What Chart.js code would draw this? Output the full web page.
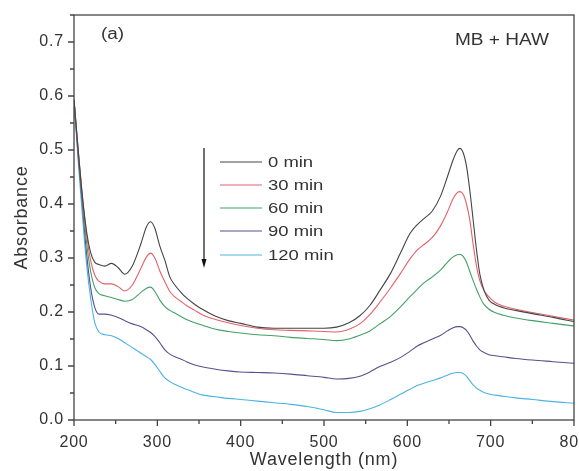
<!DOCTYPE html>
<html>
<head>
<meta charset="utf-8">
<script src="https://cdn.jsdelivr.net/npm/chart.js@4.4.1/dist/chart.umd.min.js"></script>
<style>
  html, body { margin: 0; padding: 0; background: #fff; }
  #wrap { width: 579px; height: 471px; }
</style>
</head>
<body>
<div id="wrap"><canvas id="chart" width="579" height="471"></canvas></div>
<script>
// wavelength grid (nm)
const wavelengths = [200,205,210,215,220,225,230,237,245,253,261,270,280,287,292,297,303,309,315,321,328,335,345,355,370,385,400,420,440,460,480,500,515,530,543,555,567,580,592,603,612,620,630,640,648,655,660,663,667,671,675,679,683,687,692,698,705,715,730,750,775,800];

const abs0 = [0.593,0.50,0.415,0.35,0.31,0.292,0.288,0.285,0.290,0.282,0.270,0.285,0.325,0.358,0.367,0.355,0.322,0.296,0.265,0.250,0.237,0.226,0.214,0.204,0.192,0.184,0.179,0.172,0.170,0.170,0.170,0.170,0.172,0.180,0.193,0.212,0.240,0.272,0.310,0.345,0.362,0.373,0.387,0.415,0.450,0.482,0.499,0.503,0.495,0.470,0.425,0.370,0.315,0.270,0.240,0.222,0.214,0.208,0.203,0.197,0.190,0.182];
const abs30 = [0.593,0.50,0.415,0.345,0.295,0.268,0.257,0.252,0.252,0.247,0.239,0.250,0.280,0.302,0.309,0.300,0.276,0.256,0.238,0.228,0.220,0.212,0.203,0.194,0.186,0.180,0.175,0.170,0.167,0.166,0.165,0.164,0.163,0.168,0.178,0.195,0.218,0.245,0.272,0.298,0.315,0.325,0.338,0.360,0.385,0.410,0.421,0.423,0.418,0.400,0.370,0.325,0.285,0.258,0.240,0.228,0.218,0.211,0.205,0.199,0.192,0.185];
const abs60 = [0.593,0.50,0.41,0.33,0.275,0.245,0.234,0.230,0.227,0.223,0.220,0.223,0.236,0.244,0.246,0.238,0.222,0.210,0.203,0.198,0.192,0.186,0.180,0.175,0.168,0.164,0.161,0.158,0.156,0.153,0.151,0.149,0.147,0.150,0.157,0.165,0.178,0.192,0.210,0.228,0.242,0.254,0.265,0.278,0.292,0.302,0.306,0.307,0.303,0.292,0.275,0.258,0.242,0.228,0.214,0.205,0.199,0.194,0.189,0.184,0.179,0.174];
const abs90 = [0.593,0.49,0.40,0.31,0.245,0.208,0.196,0.196,0.194,0.190,0.184,0.178,0.173,0.167,0.162,0.155,0.143,0.130,0.122,0.117,0.113,0.108,0.102,0.098,0.094,0.091,0.089,0.088,0.087,0.085,0.082,0.079,0.076,0.077,0.081,0.089,0.099,0.107,0.116,0.127,0.137,0.143,0.150,0.157,0.165,0.171,0.173,0.173,0.171,0.166,0.157,0.146,0.137,0.130,0.125,0.121,0.119,0.117,0.114,0.111,0.108,0.105];
const abs120 = [0.593,0.48,0.38,0.29,0.225,0.180,0.163,0.158,0.156,0.151,0.143,0.134,0.124,0.117,0.112,0.103,0.090,0.078,0.071,0.066,0.061,0.057,0.051,0.046,0.043,0.040,0.038,0.035,0.032,0.029,0.025,0.019,0.014,0.014,0.016,0.021,0.028,0.038,0.048,0.057,0.064,0.068,0.073,0.078,0.083,0.087,0.088,0.088,0.086,0.081,0.073,0.065,0.059,0.055,0.051,0.048,0.046,0.044,0.041,0.038,0.034,0.031];

const seriesLabels = ['0 min', '30 min', '60 min', '90 min', '120 min'];
const seriesColors = ['#444444', '#e4606a', '#44a066', '#5a4f8e', '#4cb2e4'];
const seriesData = [abs0, abs30, abs60, abs90, abs120];

const textColor = '#333333';
const axisColor = '#444444';
const font = "'Liberation Sans', Arial, sans-serif";

// text stretched sideways, like the wide lettering of the original
function wideText(ctx, text, x, y, sx) {
  ctx.save();
  ctx.translate(x, y);
  ctx.scale(sx, 1);
  ctx.fillText(text, 0, 0);
  ctx.restore();
}

// outward ticks (major + minor), frame, labels, legend, arrow
const frame = {
  id: 'frame',
  beforeDraw(chart) {
    chart.ctx.letterSpacing = '0.8px';
  },
  afterDraw(chart) {
    const ctx = chart.ctx;
    const a = chart.chartArea;
    const xs = chart.scales.x, ys = chart.scales.y;
    ctx.save();
    ctx.letterSpacing = '0px';
    ctx.strokeStyle = axisColor;
    ctx.lineWidth = 1.3;
    ctx.strokeRect(a.left, a.top, a.right - a.left, a.bottom - a.top);
    ctx.beginPath();
    xs.ticks.forEach(t => {
      const px = xs.getPixelForValue(t.value);
      const len = (Math.round(t.value) % 100 === 0) ? 6 : 4;
      ctx.moveTo(px, a.bottom);
      ctx.lineTo(px, a.bottom + len);
    });
    ys.ticks.forEach(t => {
      const py = ys.getPixelForValue(t.value);
      const len = (Math.round(t.value * 100) % 10 === 0) ? 6 : 4;
      ctx.moveTo(a.left, py);
      ctx.lineTo(a.left - len, py);
    });
    ctx.stroke();

    // panel label and sample name
    ctx.fillStyle = textColor;
    ctx.textBaseline = 'middle';
    ctx.textAlign = 'left';
    ctx.font = '16px ' + font;
    wideText(ctx, '(a)', 101, 35, 1.18);
    wideText(ctx, 'MB + HAW', 455, 41, 1.19);

    // legend
    ctx.font = '15px ' + font;
    const rowY = [162, 185, 208, 231, 255];
    chart.data.datasets.forEach((ds, i) => {
      ctx.strokeStyle = ds.borderColor;
      ctx.lineWidth = 1;
      ctx.beginPath();
      ctx.moveTo(220, rowY[i]);
      ctx.lineTo(262, rowY[i]);
      ctx.stroke();
      ctx.fillStyle = textColor;
      wideText(ctx, ds.label, 268, rowY[i] + 1, 1.23);
    });

    // arrow
    ctx.strokeStyle = '#111';
    ctx.fillStyle = '#111';
    ctx.lineWidth = 1.2;
    ctx.beginPath();
    ctx.moveTo(204, 148);
    ctx.lineTo(204, 262);
    ctx.stroke();
    ctx.beginPath();
    ctx.moveTo(204, 268);
    ctx.lineTo(201.5, 259);
    ctx.lineTo(206.5, 259);
    ctx.closePath();
    ctx.fill();
    ctx.restore();
  }
};

new Chart(document.getElementById('chart').getContext('2d'), {
  type: 'line',
  data: {
    datasets: seriesData.map((vals, i) => ({
      label: seriesLabels[i],
      data: wavelengths.map((w, j) => ({ x: w, y: vals[j] })),
      borderColor: seriesColors[i],
      backgroundColor: seriesColors[i],
      borderWidth: 1.1,
      pointRadius: 0,
      cubicInterpolationMode: 'monotone',
      fill: false
    }))
  },
  options: {
    responsive: false,
    animation: false,
    layout: { padding: { top: 15, right: 5, left: 0, bottom: 0 } },
    plugins: { legend: { display: false }, tooltip: { enabled: false } },
    scales: {
      x: {
        type: 'linear',
        min: 200, max: 800,
        afterFit(s) { s.height = 51; s.paddingLeft = 0; s.paddingRight = 0; },
        grid: { display: false, drawTicks: false },
        border: { display: false },
        ticks: {
          stepSize: 50,
          padding: 13,
          maxRotation: 0,
          autoSkip: false,
          color: textColor,
          font: { family: font, size: 16 },
          callback: v => (v % 100 === 0 ? String(v) : '')
        },
        title: {
          display: true,
          text: 'Wavelength (nm)',
          color: textColor,
          font: { family: font, size: 18 },
          padding: { top: 0, bottom: 0 }
        }
      },
      y: {
        min: 0, max: 0.75,
        afterFit(s) { s.width = 74; s.paddingTop = 0; s.paddingBottom = 0; },
        grid: { display: false, drawTicks: false },
        border: { display: false },
        ticks: {
          stepSize: 0.05,
          padding: 10,
          autoSkip: false,
          color: textColor,
          font: { family: font, size: 16 },
          callback: v => (Math.round(v * 100) % 10 === 0 ? v.toFixed(1) : '')
        },
        title: {
          display: true,
          text: 'Absorbance',
          color: textColor,
          font: { family: font, size: 18 },
          padding: { top: 11, bottom: 0 }
        }
      }
    }
  },
  plugins: [frame]
});
</script>
</body>
</html>
